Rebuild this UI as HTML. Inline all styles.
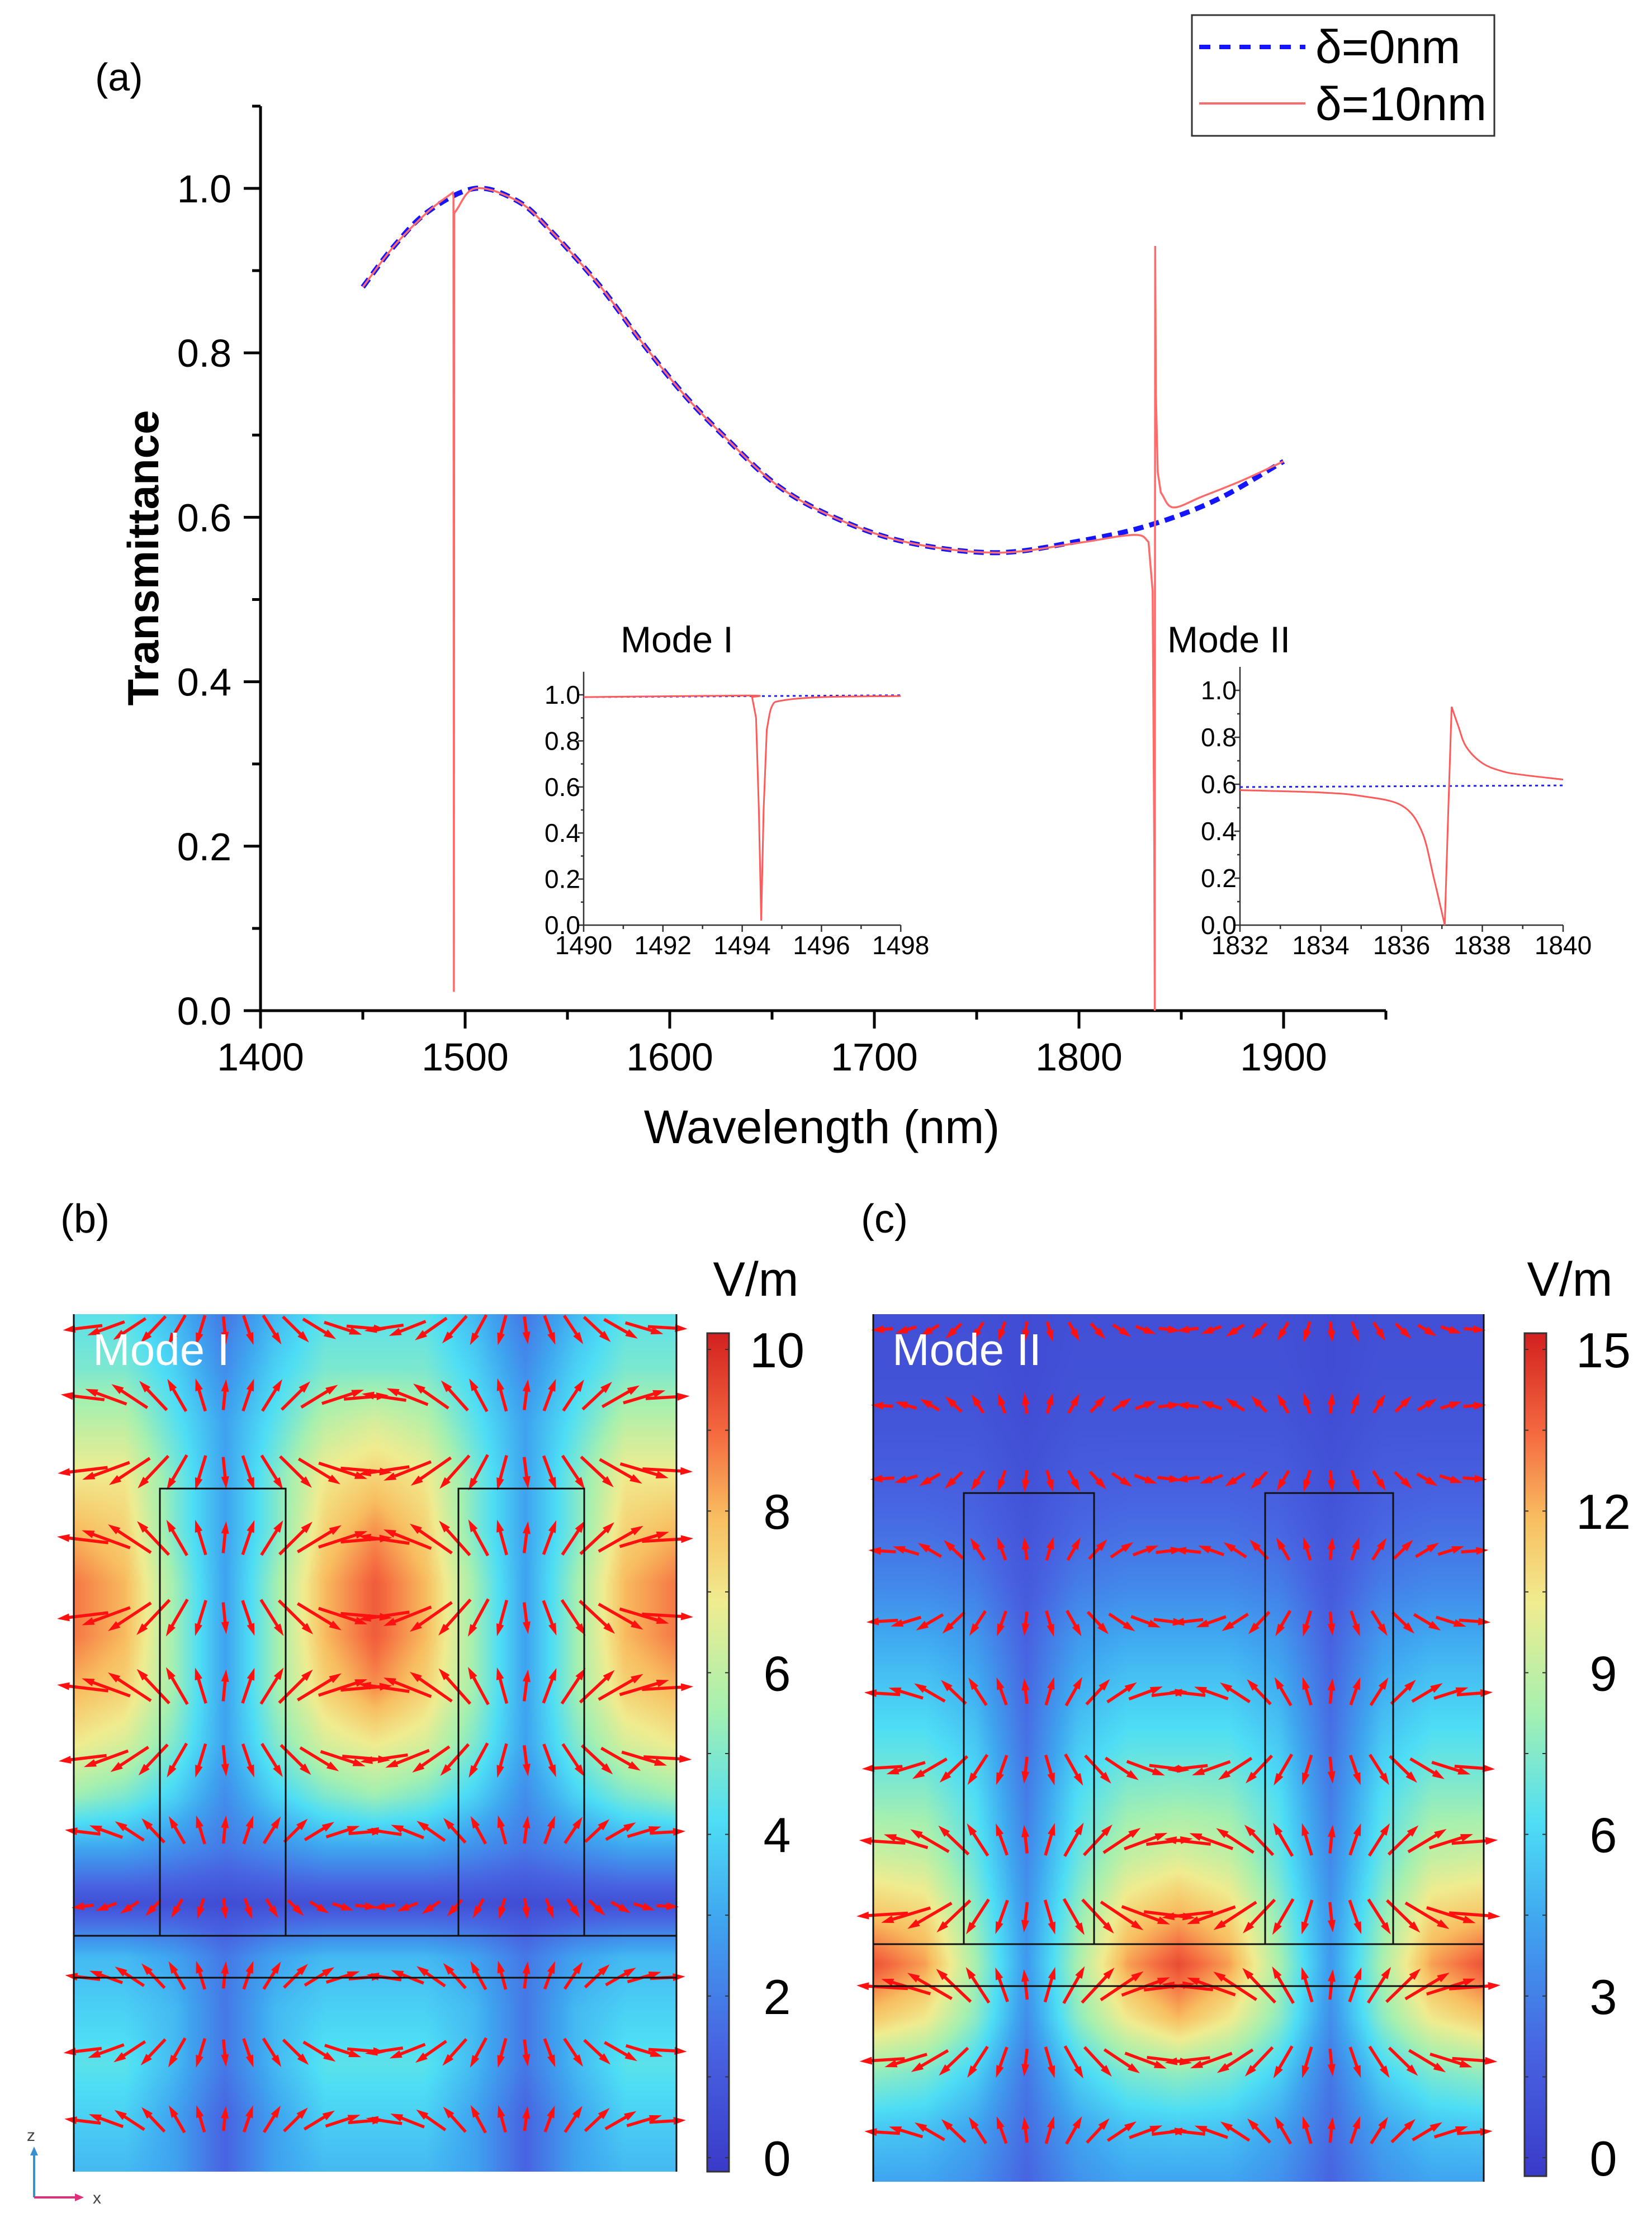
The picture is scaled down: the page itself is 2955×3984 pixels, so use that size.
<!DOCTYPE html>
<html><head><meta charset="utf-8">
<style>
html,body{margin:0;padding:0;background:#fff;}
#root{position:relative;width:2955px;height:3984px;overflow:hidden;background:#fff;font-family:"Liberation Sans",Arial,sans-serif;}
canvas{position:absolute;}
#overlay{position:absolute;left:0;top:0;}
</style></head>
<body>
<div id="root">
<canvas id="heatB" width="270" height="384" style="left:132px;top:2351px;width:1078px;height:1534px;"></canvas>
<canvas id="heatC" width="273" height="388" style="left:1562px;top:2351px;width:1092px;height:1552px;"></canvas>
<svg id="overlay" width="2955" height="3984" xmlns="http://www.w3.org/2000/svg"></svg>
</div>
<script>
// ---------- Panel (a) data ----------
const lam0 = [1450,1465,1482,1505,1526,1542,1566,1586,1606,1626,1653,1683,1717,1760,1800,1834,1867,1900];
const T0   = [0.880,0.929,0.972,1.0,0.984,0.948,0.881,0.814,0.752,0.700,0.638,0.597,0.569,0.557,0.571,0.590,0.621,0.668];
const lam10 = [1450,1465,1482,1494.0,1494.3,1494.45,1494.5,1494.55,1494.7,1505,1526,1542,1566,1586,1606,1626,1653,1683,1717,1760,1800,1820,1830,1834,1836,1836.8,1837.05,1837.24,1837.6,1838.5,1840,1846,1860,1880,1900];
const T10   = [0.880,0.929,0.972,0.995,0.99,0.3,0.023,0.3,0.97,1.0,0.984,0.948,0.881,0.814,0.752,0.700,0.638,0.597,0.569,0.557,0.569,0.577,0.578,0.57,0.51,0.2,0.0,0.93,0.75,0.655,0.63,0.612,0.625,0.645,0.668];
const xTicks = [1400,1500,1600,1700,1800,1900];
const yTicks = [0.0,0.2,0.4,0.6,0.8,1.0];
// inset Mode I
const lamI0 = [1490,1498];
const TI0 = [0.99,0.998];
const lamI = [1490,1494.1,1494.25,1494.35,1494.42,1494.48,1494.54,1494.62,1494.75,1495,1496,1498];
const TI   = [0.99,0.997,0.99,0.9,0.5,0.02,0.5,0.85,0.95,0.975,0.99,0.995];
const xTicksI = [1490,1492,1494,1496,1498];
// inset Mode II
const lamII0 = [1832,1840];
const TII0 = [0.588,0.595];
const lamII = [1832,1834,1835,1836,1836.5,1836.8,1837.07,1837.15,1837.24,1837.4,1837.6,1838,1838.5,1839,1840];
const TII   = [0.575,0.565,0.55,0.51,0.40,0.2,0.0,0.45,0.93,0.85,0.76,0.69,0.655,0.64,0.62];
const xTicksII = [1832,1834,1836,1838,1840];
const insetYTicks = [0.0,0.2,0.4,0.6,0.8,1.0];

// ---------- Field maps (|E|, V/m) rows top->bottom, 13 columns ----------
const fieldB = [
[4.5,4.5,3.5,2,3.5,4.5,4.5,4.5,3.5,2,3.5,4.5,4.5],
[5,5,4,2.5,4,5,5,5,4,2.5,4,5,5],
[6,6,4.5,3,4.5,6,6.5,6,4.5,3,4.5,6,6],
[7,7,5,3,5,7,7.5,7,5,3,5,7,7],
[8,7.5,5,3,5,7.5,8.5,7.5,5,3,5,7.5,8],
[8.8,8,5.5,3,5.5,8,9.2,8,5.5,3,5.5,8,8.8],
[8.8,8,5.5,3,5.5,8,9.2,8,5.5,3,5.5,8,8.8],
[8,7.5,5.5,3,5.5,7.5,8.5,7.5,5.5,3,5.5,7.5,8],
[7,6.5,5,3,5,6.5,7,6.5,5,3,5,6.5,7],
[5.5,5,4,2.5,4,5,5.5,5,4,2.5,4,5,5.5],
[3,3,2.5,2,2.5,3,3,3,2.5,2,2.5,3,3],
[0.8,0.8,0.8,0.7,0.8,0.8,0.8,0.8,0.8,0.7,0.8,0.8,0.8],
[3.5,3.5,3,2,3,3.5,3.5,3.5,3,2,3,3.5,3.5],
[4,4,3.5,2,3.5,4,4,4,3.5,2,3.5,4,4],
[4.5,4.5,3.5,2,3.5,4.5,4.5,4.5,3.5,2,3.5,4.5,4.5],
[4,4,3,1.5,3,4,4,4,3,1.5,3,4,4],
[3.5,3.5,3,1.5,3,3.5,3.5,3.5,3,1.5,3,3.5,3.5]
];
const fieldC = [
[1.2,1.2,1.2,1.0,1.2,1.2,1.2,1.2,1.2,1.0,1.2,1.2,1.2],
[1.3,1.3,1.3,1.0,1.3,1.3,1.3,1.3,1.3,1.0,1.3,1.3,1.3],
[1.5,1.5,1.5,1.1,1.5,1.5,1.5,1.5,1.5,1.1,1.5,1.5,1.5],
[2.0,2.0,1.9,1.3,1.9,2.0,2.0,2.0,1.9,1.3,1.9,2.0,2.0],
[2.7,2.7,2.4,1.5,2.4,2.7,2.7,2.7,2.4,1.5,2.4,2.7,2.7],
[3.6,3.6,3.2,1.8,3.2,3.6,3.6,3.6,3.2,1.8,3.2,3.6,3.6],
[4.8,4.8,4.2,2.2,4.2,4.8,4.8,4.8,4.2,2.2,4.2,4.8,4.8],
[5.8,5.8,5,2.5,5,5.8,5.8,5.8,5,2.5,5,5.8,5.8],
[6.8,6.8,5.8,2.8,5.8,6.8,6.8,6.8,5.8,2.8,5.8,6.8,6.8],
[8,8,6.5,3.2,6.5,8,8.2,8,6.5,3.2,6.5,8,8],
[9.5,9.2,7,3.6,7,9.2,9.8,9.2,7,3.6,7,9.2,9.5],
[11.5,11,7.8,4,7.8,11,12,11,7.8,4,7.8,11,11.5],
[14,12.5,8.5,4.2,8.5,12.5,14.2,12.5,8.5,4.2,8.5,12.5,14],
[11.5,10.5,7.8,3.8,7.8,10.5,12,10.5,7.8,3.8,7.8,10.5,11.5],
[8,7.5,6,3,6,7.5,8,7.5,6,3,6,7.5,8],
[5.8,5.6,4.6,2.6,4.6,5.6,5.8,5.6,4.6,2.6,4.6,5.6,5.8],
[4.6,4.6,3.9,2.3,3.9,4.6,4.6,4.6,3.9,2.3,3.9,4.6,4.6]
];
const cbarLabelsB = ["0","2","4","6","8","10"];
const cbarLabelsC = ["0","3","6","9","12","15"];

const NS = "http://www.w3.org/2000/svg";
const svg = document.getElementById('overlay');
function el(tag, attrs, parent, text){
  const e = document.createElementNS(NS, tag);
  for (const k in attrs) e.setAttribute(k, attrs[k]);
  if (text !== undefined) e.textContent = text;
  (parent || svg).appendChild(e);
  return e;
}
function path(pts, smooth, thr){
  const n = pts.length;
  const jump = i => (i >= 0 && i < n-1) && (Math.abs(pts[i+1][1]-pts[i][1]) > thr || Math.abs(pts[i+1][0]-pts[i][0]) < 8);
  const tan = i => {
    const hasL = i > 0 && !jump(i-1), hasR = i < n-1 && !jump(i);
    if (hasL && hasR) return [(pts[i+1][0]-pts[i-1][0])/6, (pts[i+1][1]-pts[i-1][1])/6];
    if (hasL) return [(pts[i][0]-pts[i-1][0])/3, (pts[i][1]-pts[i-1][1])/3];
    if (hasR) return [(pts[i+1][0]-pts[i][0])/3, (pts[i+1][1]-pts[i][1])/3];
    return [0,0];
  };
  let d = 'M' + pts[0][0].toFixed(1) + ',' + pts[0][1].toFixed(1);
  for (let i = 0; i < n - 1; i++){
    const p1 = pts[i], p2 = pts[i+1];
    if (!smooth || jump(i)){ d += 'L' + p2[0].toFixed(1) + ',' + p2[1].toFixed(1); continue; }
    const t1 = tan(i), t2 = tan(i+1);
    d += 'C' + (p1[0]+t1[0]).toFixed(1) + ',' + (p1[1]+t1[1]).toFixed(1) + ' ' + (p2[0]-t2[0]).toFixed(1) + ',' + (p2[1]-t2[1]).toFixed(1) + ' ' + p2[0].toFixed(1) + ',' + p2[1].toFixed(1);
  }
  return d;
}

// ---------- Panel (a) ----------
const X = l => 466 + (l - 1400) * 3.66;
const Y = v => 1808 - v * 1471;
const gA = el('g', {});


const lblA = el('text', {x:170, y:162, 'font-size':70}, gA, '(a)');



const axA = el('g', {stroke:'#000', 'stroke-width':5, fill:'none'}, gA);


el('line', {x1:466, y1:Y(1.1), x2:466, y2:Y(0)+2}, axA);
el('line', {x1:436, y1:Y(0), x2:X(1950), y2:Y(0)}, axA);
for (let l = 1400; l <= 1950; l += 50){
  const major = (l % 100 === 0);
  el('line', {x1:X(l), y1:Y(0), x2:X(l), y2:Y(0) + (major ? 32 : 16)}, axA);
}
for (let k = 0; k <= 11; k++){
  const v = k / 10;
  const major = (k % 2 === 0 && k <= 10);
  el('line', {x1:466 - (major ? 30 : 15), y1:Y(v), x2:466, y2:Y(v)}, axA);
}
xTicks.forEach(t => {
  const tx = el('text', {x:X(t), y:Y(0) + 107, 'font-size':70, 'text-anchor':'middle'}, gA, String(t));
  
  
});
yTicks.forEach(t => {
  const tx = el('text', {x:414, y:Y(t) + 25, 'font-size':70, 'text-anchor':'end'}, gA, t.toFixed(1));
  
  
});
const xTitle = el('text', {x:1470, y:2045, 'font-size':84, 'text-anchor':'middle'}, gA, 'Wavelength (nm)');


const yTitle = el('text', {x:0, y:0, 'font-size':78, 'font-weight':'bold', 'text-anchor':'middle', transform:'translate(283,998) rotate(-90)'}, gA, 'Transmittance');



const s0 = el('path', {d:path(lam0.map((l,i)=>[X(l),Y(T0[i])]), true, 300), stroke:'#1414ff', 'stroke-width':9, fill:'none', 'stroke-dasharray':'18 11'}, gA);


const s10 = el('path', {d:path(lam10.map((l,i)=>[X(l),Y(T10[i])]), true, 300), stroke:'#ff6a6a', 'stroke-width':3.5, fill:'none'}, gA);



// legend
const lg = el('g', {}, gA);


el('rect', {x:2132, y:27, width:541, height:216, fill:'#fff', stroke:'#333', 'stroke-width':3}, lg);
const le1 = el('g', {}, lg);


el('line', {x1:2145, y1:84, x2:2335, y2:84, stroke:'#1414ff', 'stroke-width':8, 'stroke-dasharray':'20 16'}, le1);
el('text', {x:2353, y:113, 'font-size':84}, le1, 'δ=0nm');
const le2 = el('g', {}, lg);


el('line', {x1:2145, y1:185, x2:2335, y2:185, stroke:'#ff6a6a', 'stroke-width':4}, le2);
el('text', {x:2353, y:215, 'font-size':84}, le2, 'δ=10nm');

// insets
function inset(name, title, titleX, x0, y0, xs, ys, lmin, lmax, ticks, bl, bt, rl, rt){
  const g = el('g', {}, gA);
  
  
  const IX = l => x0 + (l - lmin) * xs;
  const IY = v => y0 - v * ys;
  const t = el('text', {x:titleX, y:1167, 'font-size':66}, g, title);
  
  
  const ax = el('g', {stroke:'#333', 'stroke-width':2.5, fill:'none'}, g);
  el('line', {x1:x0, y1:IY(1.1), x2:x0, y2:y0}, ax);
  el('line', {x1:x0, y1:y0, x2:IX(lmax), y2:y0}, ax);
  for (let l = lmin; l <= lmax; l += 1){
    el('line', {x1:IX(l), y1:y0, x2:IX(l), y2:y0 + ((l - lmin) % 2 === 0 ? 12 : 7)}, ax);
  }
  for (let k = 0; k <= 10; k++){
    el('line', {x1:x0 - (k % 2 === 0 ? 10 : 5), y1:IY(k/10), x2:x0, y2:IY(k/10)}, ax);
  }
  ticks.forEach(tk => {
    const tx = el('text', {x:IX(tk), y:y0 + 52, 'font-size':46, 'text-anchor':'middle'}, g, String(tk));
    
    
  });
  insetYTicks.forEach(tk => {
    const tx = el('text', {x:x0 - 6, y:IY(tk) + 16, 'font-size':46, 'text-anchor':'end'}, g, tk.toFixed(1));
    
    
  });
  const b = el('path', {d:path(bl.map((l,i)=>[IX(l),IY(bt[i])]), false, 999), stroke:'#2020ff', 'stroke-width':3, fill:'none', 'stroke-dasharray':'5 6'}, g);
  
  
  const r = el('path', {d:path(rl.map((l,i)=>[IX(l),IY(rt[i])]), true, 300), stroke:'#ff5a5a', 'stroke-width':3, fill:'none'}, g);
  
  
}
inset('inset-mode-1', 'Mode I', 1110, 1044, 1655, 70.9, 412, 1490, 1498, xTicksI, lamI0, TI0, lamI, TI);
inset('inset-mode-2', 'Mode II', 2088, 2218, 1655, 72.25, 420, 1832, 1840, xTicksII, lamII0, TII0, lamII, TII);

// ---------- colormap ----------
const cmStops = [[0,[58,58,200]],[0.15,[72,100,226]],[0.3,[63,165,240]],[0.42,[78,222,245]],[0.55,[165,240,176]],[0.68,[240,236,144]],[0.78,[248,190,96]],[0.88,[245,106,64]],[1,[210,32,32]]];
function cmap(t){
  t = Math.max(0, Math.min(1, t));
  for (let i = 0; i < cmStops.length - 1; i++){
    const a = cmStops[i], b = cmStops[i+1];
    if (t <= b[0]){
      const f = (t - a[0]) / (b[0] - a[0]);
      return a[1].map((c,j) => Math.round(c + (b[1][j] - c) * f));
    }
  }
  return cmStops[cmStops.length-1][1];
}
function sample(grid, u, v){
  const R = grid.length - 1, C = grid[0].length - 1;
  const fy = Math.max(0, Math.min(R, v * R)), fx = Math.max(0, Math.min(C, u * C));
  const r0 = Math.floor(fy), c0 = Math.floor(fx), r1 = Math.min(R, r0+1), c1 = Math.min(C, c0+1);
  const dy = fy - r0, dx = fx - c0;
  const top = grid[r0][c0]*(1-dx) + grid[r0][c1]*dx;
  const bot = grid[r1][c0]*(1-dx) + grid[r1][c1]*dx;
  return top*(1-dy) + bot*dy;
}
function drawHeat(id, grid, vmax){
  const cv = document.getElementById(id), ctx = cv.getContext('2d');
  const img = ctx.createImageData(cv.width, cv.height);
  for (let y = 0; y < cv.height; y++) for (let x = 0; x < cv.width; x++){
    const val = sample(grid, x/(cv.width-1), y/(cv.height-1));
    const c = cmap(val / vmax), k = (y*cv.width + x)*4;
    img.data[k] = c[0]; img.data[k+1] = c[1]; img.data[k+2] = c[2]; img.data[k+3] = 255;
  }
  ctx.putImageData(img, 0, 0);
}
drawHeat('heatB', fieldB, 10.2);
drawHeat('heatC', fieldC, 15.3);

// ---------- field panels overlay ----------
function fieldPanel(name, label, plabel, plx, L, T, W, H, grid, vmax, pillars, lines, rows, cbx, cbBottom, labels, labelX, vmLabelX){
  const g = el('g', {});
  
  
  const pl = el('text', {x:plx, y:2205, 'font-size':72}, g, plabel);
  
  
  const ag = el('g', {stroke:'#ff1010', fill:'#ff1010', 'stroke-width':5.5}, g);
  
  
  const centers = pillars.map(p => (p[0] + p[1]) / 2);
  const spacing = centers[1] - centers[0];
  rows.forEach((ry, ri) => {
    const N = 26;
    for (let i = 0; i < N; i++){
      const x = L + (i + 0.5) * W / N;
      let best = centers[0];
      centers.forEach(c => { if (Math.abs(x - c) < Math.abs(x - best)) best = c; });
      const d = Math.min(1, Math.abs(x - best) / (spacing / 2));
      const side = x < best ? -1 : 1;
      const vdir = (ri % 2 === 0) ? 1 : -1;
      const ang = (1 - d) * Math.PI / 2 * 0.95;
      const val = sample(grid, (x - L) / W, (ry - T) / H);
      const len = 22 + 60 * Math.min(1, val / vmax * 1.4);
      const dx = Math.cos(ang) * side * len * 0.5, dy = Math.sin(ang) * vdir * len * 0.5;
      el('line', {x1:x - dx, y1:ry - dy, x2:x + dx, y2:ry + dy}, ag);
      const hx = x + dx, hy = ry + dy, ux = dx / (len*0.5), uy = dy / (len*0.5);
      el('polygon', {points:`${hx+ux*10},${hy+uy*10} ${hx-ux*12-uy*7},${hy-uy*12+ux*7} ${hx-ux*12+uy*7},${hy-uy*12-ux*7}`, stroke:'none'}, ag);
    }
  });
  const sg = el('g', {stroke:'#111', 'stroke-width':3, fill:'none'}, g);
  
  
  pillars.forEach(p => el('rect', {x:p[0], y:p[2], width:p[1]-p[0], height:lines[0]-p[2]}, sg));
  lines.forEach(ly => el('line', {x1:L, y1:ly, x2:L+W, y2:ly}, sg));
  el('line', {x1:L, y1:T, x2:L, y2:T+H}, sg);
  el('line', {x1:L+W, y1:T, x2:L+W, y2:T+H}, sg);
  const ml = el('text', {x:L + 34, y:2442, 'font-size':80, fill:'#fff'}, g, label);
  
  
  const cb = el('g', {}, g);
  
  
  const gid = 'grad' + name;
  const defs = el('defs', {}, cb);
  const lgd = el('linearGradient', {id:gid, x1:0, y1:1, x2:0, y2:0}, defs);
  cmStops.forEach(s => el('stop', {offset:s[0], 'stop-color':`rgb(${s[1].join(',')})`}, lgd));
  el('rect', {x:cbx, y:2385, width:39, height:cbBottom - 2385, fill:`url(#${gid})`, stroke:'#333', 'stroke-width':3}, cb);
  const y0 = 3860, y1 = 2414, n = labels.length - 1;
  for (let k = 0; k <= 2*n; k++){
    const ty = y0 + (y1 - y0) * k / (2*n);
    el('line', {x1:cbx, y1:ty, x2:cbx+7, y2:ty, stroke:'#333', 'stroke-width':2}, cb);
    el('line', {x1:cbx+32, y1:ty, x2:cbx+39, y2:ty, stroke:'#333', 'stroke-width':2}, cb);
  }
  labels.forEach((t, k) => {
    const tx = el('text', {x:labelX, y:y0 + (y1 - y0) * k / n + 32, 'font-size':88, 'text-anchor':'middle'}, cb, t);
    
    
  });
  const vm = el('text', {x:vmLabelX, y:2318, 'font-size':86, 'text-anchor':'middle'}, cb, 'V/m');
  
  
}
fieldPanel('panel-b', 'Mode I', '(b)', 108, 132, 2351, 1078, 1534, fieldB, 10,
  [[286,511,2663],[820,1045,2663]], [3463,3538],
  [2375,2500,2630,2755,2890,3020,3145,3278,3410,3538,3668,3795],
  1265, 3885, cbarLabelsB, 1390, 1352);
fieldPanel('panel-c', 'Mode II', '(c)', 1540, 1562, 2351, 1092, 1552, fieldC, 15,
  [[1724,1957,2671],[2263,2492,2671]], [3478,3553],
  [2378,2515,2645,2775,2900,3030,3162,3295,3425,3555,3685,3815],
  2727, 3893, cbarLabelsC, 2868, 2808);

// coordinate icon
const ci = el('g', {}, svg);


el('line', {x1:61, y1:3931, x2:61, y2:3850, stroke:'#3a8fd0', 'stroke-width':4}, ci);
el('polygon', {points:'61,3840 54,3856 68,3856', fill:'#3a8fd0'}, ci);
el('line', {x1:61, y1:3931, x2:140, y2:3931, stroke:'#e0307a', 'stroke-width':4}, ci);
el('polygon', {points:'150,3931 134,3924 134,3938', fill:'#e0307a'}, ci);
el('text', {x:48, y:3830, 'font-size':30, fill:'#444'}, ci, 'z');
el('text', {x:166, y:3942, 'font-size':30, fill:'#444'}, ci, 'x');
</script>
</body></html>
